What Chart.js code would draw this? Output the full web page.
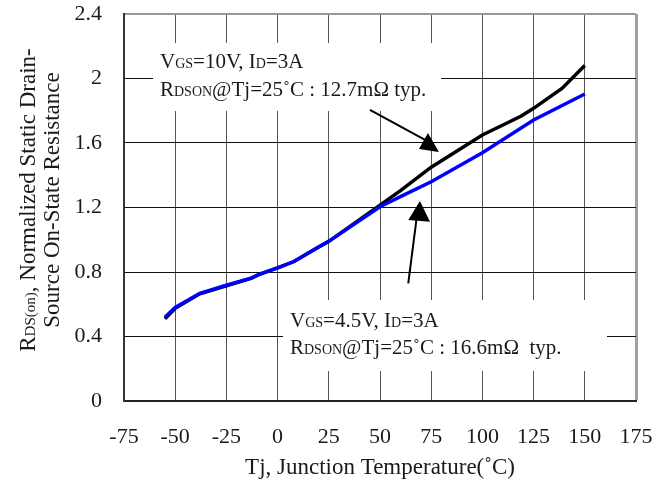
<!DOCTYPE html>
<html>
<head>
<meta charset="utf-8">
<script src="https://cdn.jsdelivr.net/npm/chart.js@4"></script>
<style>
  html, body { margin:0; padding:0; background:#fff; }
  #wrap { width:670px; height:489px; }
</style>
</head>
<body>
<div id="wrap"><canvas id="chart" width="670" height="489"></canvas></div>
<script>
// ── data ─────────────────────────────────────────────────────────────────────
const temps10 = [-55, -50, -38, -25, -13, -9, 0, 8, 19, 25, 50, 60, 75, 100, 119, 125, 139, 150];
const rds10   = [0.51, 0.575, 0.665, 0.715, 0.76, 0.785, 0.825, 0.865, 0.947, 0.99, 1.215, 1.305, 1.45, 1.65, 1.767, 1.815, 1.94, 2.08];

const temps45 = [-55, -50, -38, -25, -13, -9, 0, 8, 19, 25, 50, 60, 75, 100, 125, 150];
const rds45   = [0.52, 0.58, 0.668, 0.718, 0.762, 0.785, 0.825, 0.865, 0.947, 0.99, 1.205, 1.267, 1.36, 1.54, 1.743, 1.904];

const xTicks = [-75, -50, -25, 0, 25, 50, 75, 100, 125, 150, 175];
const yTicks = [0, 0.4, 0.8, 1.2, 1.6, 2, 2.4];

const SERIF = "'Liberation Serif', 'Times New Roman', serif";
const TXT   = '#1a1a1a';

const toXY = (xs, ys) => xs.map((x, i) => ({ x, y: ys[i] }));

// text runs with smaller "subscript" pieces on the same baseline
function runs(ctx, parts, x, y, size, center) {
  const fonts = parts.map(p => `${p[1] ? Math.round(size * 0.66) : size}px ${SERIF}`);
  let w = 0;
  parts.forEach((p, i) => { ctx.font = fonts[i]; w += ctx.measureText(p[0]).width; });
  let cx = center ? x - w / 2 : x;
  ctx.textAlign = 'left';
  ctx.textBaseline = 'alphabetic';
  parts.forEach((p, i) => {
    ctx.font = fonts[i];
    ctx.fillText(p[0], cx, y);
    cx += ctx.measureText(p[0]).width;
  });
}

const annotPlugin = {
  id: 'annot',
  beforeDatasetsDraw(chart) {
    const c = chart.ctx;
    c.save();
    c.fillStyle = '#fff';
    c.fillRect(153, 43, 288, 68);
    c.fillRect(283, 300, 324, 71);
    c.restore();
  },
  afterDatasetsDraw(chart) {
    const c = chart.ctx;
    const xs = chart.scales.x, ys = chart.scales.y;
    const P = (x, y) => [xs.getPixelForValue(x), ys.getPixelForValue(y)];
    c.save();
    c.fillStyle = TXT;

    // annotation texts
    runs(c, [['V'], ['GS', 1], ['=10V, I'], ['D', 1], ['=3A']], 160, 68, 21);
    runs(c, [['R'], ['DSON', 1], ['@Tj=25˚C : 12.7mΩ typ.']], 160, 96, 21);
    runs(c, [['V'], ['GS', 1], ['=4.5V, I'], ['D', 1], ['=3A']], 290, 327, 21);
    runs(c, [['R'], ['DSON', 1], ['@Tj=25˚C : 16.6mΩ  typ.']], 290, 354, 21);

    // arrows
    c.strokeStyle = '#000';
    c.fillStyle = '#000';
    c.lineWidth = 2;
    const arrow = (from, to, tri) => {
      const a = P(...from), b = P(...to);
      c.beginPath(); c.moveTo(a[0], a[1]); c.lineTo(b[0], b[1]); c.stroke();
      c.beginPath();
      tri.forEach((t, i) => { const p = P(...t); i ? c.lineTo(p[0], p[1]) : c.moveTo(p[0], p[1]); });
      c.closePath(); c.fill();
    };
    arrow([45.1, 1.805], [72.0, 1.619], [[73.4, 1.662], [69.0, 1.563], [78.8, 1.544]]);
    arrow([63.8, 0.730], [68.7, 1.214], [[69.5, 1.240], [63.8, 1.122], [74.4, 1.112]]);

    // axis titles
    c.fillStyle = TXT;
    runs(c, [['Tj, Junction Temperature(˚C)']], 380, 474, 23, true);
    c.translate(0, 200);
    c.rotate(-Math.PI / 2);
    runs(c, [['R'], ['DS(on)', 1], [', Normalized Static Drain-']], 0, 35, 23, true);
    runs(c, [['Source On-State Resistance']], 0, 59, 23, true);
    c.restore();
  },
};

new Chart(document.getElementById('chart'), {
  type: 'line',
  data: {
    datasets: [
      {
        label: 'VGS=4.5V',
        data: toXY(temps45, rds45),
        borderColor: '#0000ff', borderWidth: 3.5,
        pointRadius: 0, tension: 0, fill: false, order: 0,
      },
      {
        label: 'VGS=10V',
        data: toXY(temps10, rds10),
        borderColor: '#000000', borderWidth: 3.5,
        pointRadius: 0, tension: 0, fill: false, order: 1,
      },
    ],
  },
  options: {
    responsive: false, animation: false, devicePixelRatio: 1,
    layout: { padding: { top: 14, right: 34, left: 0, bottom: 0 } },
    plugins: { legend: { display: false }, tooltip: { enabled: false } },
    scales: {
      x: {
        type: 'linear', min: xTicks[0], max: xTicks[xTicks.length - 1],
        afterBuildTicks: s => { s.ticks = xTicks.map(v => ({ value: v })); },
        afterFit: s => { s.height = 88; },
        ticks: { font: { size: 22, family: SERIF, lineHeight: 1 }, color: TXT, padding: 0, maxRotation: 0 },
        grid: {
          drawTicks: true, tickLength: 25, tickColor: 'rgba(0,0,0,0)',
          color: ctx => ctx.tick && ctx.tick.value === 175 ? '#a0a0a0' : '#555',
          lineWidth: ctx => ctx.tick && ctx.tick.value === 175 ? 3 : 1,
        },
        border: { color: '#222', width: 2 },
      },
      y: {
        min: yTicks[0], max: yTicks[yTicks.length - 1],
        afterBuildTicks: s => { s.ticks = yTicks.map(v => ({ value: v })); },
        afterFit: s => { s.width = 124; },
        ticks: { font: { size: 22, family: SERIF, lineHeight: 1 }, color: TXT, padding: 0, callback: v => String(+v.toFixed(1)) },
        grid: {
          drawTicks: true, tickLength: 22, tickColor: 'rgba(0,0,0,0)',
          color: ctx => ctx.tick && ctx.tick.value === 2.4 ? '#999' : '#111',
          lineWidth: ctx => ctx.tick && ctx.tick.value === 2.4 ? 2 : 1,
        },
        border: { color: '#333', width: 2 },
      },
    },
  },
  plugins: [annotPlugin],
});
</script>
</body>
</html>
